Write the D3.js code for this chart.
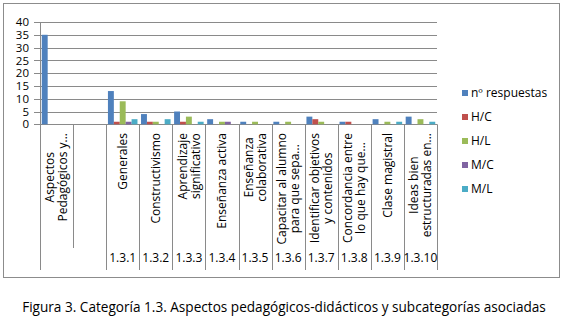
<!DOCTYPE html>
<html>
<head>
<meta charset="utf-8">
<script src="https://cdn.jsdelivr.net/npm/d3@7"></script>
<style>
  body { margin: 0; background: #fff; }
  text { font-family: "Open Sans", sans-serif; fill: #000; }
</style>
</head>
<body>
<svg id="chart" width="568" height="327"></svg>
<script>
// categories (line breaks as in the original labels)
const categories = ["Aspectos\nPedagógicos y...", "", "Generales", "Constructivismo",
  "Aprendizaje\nsignificativo", "Enseñanza activa", "Enseñanza\ncolaborativa",
  "Capacitar al alumno\npara que sepa...", "Identificar objetivos\ny contenidos",
  "Concordancia entre\nlo que hay que...", "Clase magistral", "Ideas bien\nestructuradas en..."];
// outer level of the axis
const groupCodes = ["", "1.3.1", "1.3.2", "1.3.3", "1.3.4", "1.3.5", "1.3.6", "1.3.7", "1.3.8", "1.3.9", "1.3.10"];
const groupSpans = [2, 1, 1, 1, 1, 1, 1, 1, 1, 1, 1];

const seriesNames = ["nº respuestas", "H/C", "H/L", "M/C", "M/L"];
const nRespuestas = [35, 0, 13, 4, 5, 2, 1, 1, 3, 1, 2, 3];
const hC = [0, 0, 1, 1, 1, 0, 0, 0, 2, 1, 0, 0];
const hL = [0, 0, 9, 1, 3, 1, 1, 1, 1, 0, 1, 2];
const mC = [0, 0, 1, 0, 0, 1, 0, 0, 0, 0, 0, 0];
const mL = [0, 0, 2, 2, 1, 0, 0, 0, 0, 0, 1, 1];
const yTicks = [0, 5, 10, 15, 20, 25, 30, 35, 40];

const colors = ["#4F81BD", "#C0504D", "#9BBB59", "#8064A2", "#4BACC6"];
const series = [nRespuestas, hC, hL, mC, mL];

const svg = d3.select("#chart");
const plot = { left: 40, right: 437, top: 22, bottom: 124.3 };

// chart border
svg.append("rect").attr("x", 3.5).attr("y", 3.5).attr("width", 556).attr("height", 274)
  .attr("fill", "none").attr("stroke", "#8c8c8c");

const x = d3.scaleBand().domain(d3.range(categories.length)).range([plot.left, plot.right]);
const xs = d3.scaleBand().domain(d3.range(series.length)).range([0, x.bandwidth()])
  .paddingInner(0).paddingOuter(0.3);
const y = d3.scaleLinear().domain([0, 40]).range([plot.bottom, plot.top]);

// gridlines
svg.append("g").selectAll("line").data(yTicks).join("line")
  .attr("x1", plot.left - 6).attr("x2", plot.right)
  .attr("y1", d => Math.round(y(d)) + 0.5).attr("y2", d => Math.round(y(d)) + 0.5)
  .attr("stroke", "#8a8a8a");

svg.append("line").attr("x1", plot.left + 0.5).attr("x2", plot.left + 0.5)
  .attr("y1", plot.top).attr("y2", plot.bottom).attr("stroke", "#8a8a8a");

svg.append("g").selectAll("text").data(yTicks).join("text")
  .attr("x", 29).attr("y", d => y(d)).attr("dy", "0.36em")
  .attr("text-anchor", "end").style("font-size", "11.5px").text(d => d);

// bars
series.forEach((vals, s) => {
  svg.append("g").selectAll("rect").data(vals).join("rect")
    .attr("x", (d, i) => x(i) + xs(s))
    .attr("width", xs.bandwidth())
    .attr("y", d => y(d))
    .attr("height", d => y(0) - y(d))
    .attr("fill", colors[s]);
});

// category axis: inner lines
const axisBottom = 270;
categories.forEach((c, i) => {
  if (i === 0) return;
  // boundaries between groups are full height, inside a group shorter
  let isGroupEdge = false, acc = 0;
  groupSpans.forEach(sp => { acc += sp; if (acc === i) isGroupEdge = true; });
  const xx = Math.round(x(i)) + 0.5;
  svg.append("line").attr("x1", xx).attr("x2", xx)
    .attr("y1", plot.bottom).attr("y2", isGroupEdge ? axisBottom : 248)
    .attr("stroke", "#8a8a8a");
});
[plot.left, plot.right].forEach(xx => {
  svg.append("line").attr("x1", xx + 0.5).attr("x2", xx + 0.5)
    .attr("y1", plot.bottom).attr("y2", axisBottom).attr("stroke", "#8a8a8a");
});

// rotated category labels
const lineH = 13;
categories.forEach((c, i) => {
  if (!c) return;
  const lines = c.split("\n");
  const g = svg.append("g");
  const texts = lines.map(l => g.append("text").style("font-size", "12px").text(l));
  const maxLen = d3.max(texts, t => t.node().getComputedTextLength());
  const cy = 133 + maxLen / 2;
  const cx = x(i) + x.bandwidth() / 2;
  texts.forEach((t, k) => {
    const lx = cx + (k - (lines.length - 1) / 2) * lineH;
    t.attr("text-anchor", "middle").attr("dy", "0.35em")
      .attr("transform", `translate(${lx},${cy}) rotate(-90)`);
  });
});

// outer level codes
let start = 0;
groupCodes.forEach((code, k) => {
  const x0 = x(start), x1 = x(start + groupSpans[k] - 1) + x.bandwidth();
  svg.append("text").attr("x", (x0 + x1) / 2).attr("y", 262)
    .attr("text-anchor", "middle").style("font-size", "12px").text(code);
  start += groupSpans[k];
});

// legend
const legend = svg.append("g").selectAll("g").data(seriesNames).join("g")
  .attr("transform", (d, i) => `translate(462,${93 + i * 24})`);
legend.append("rect").attr("x", 0).attr("y", -3).attr("width", 6).attr("height", 6)
  .attr("fill", (d, i) => colors[i]);
legend.append("text").attr("x", 9).attr("dy", "0.35em").style("font-size", "12px").text(d => d);

// caption
svg.append("text").attr("x", 284).attr("y", 312).attr("text-anchor", "middle")
  .style("font-size", "13.6px")
  .text("Figura 3. Categoría 1.3. Aspectos pedagógicos-didácticos y subcategorías asociadas");
</script>
</body>
</html>
